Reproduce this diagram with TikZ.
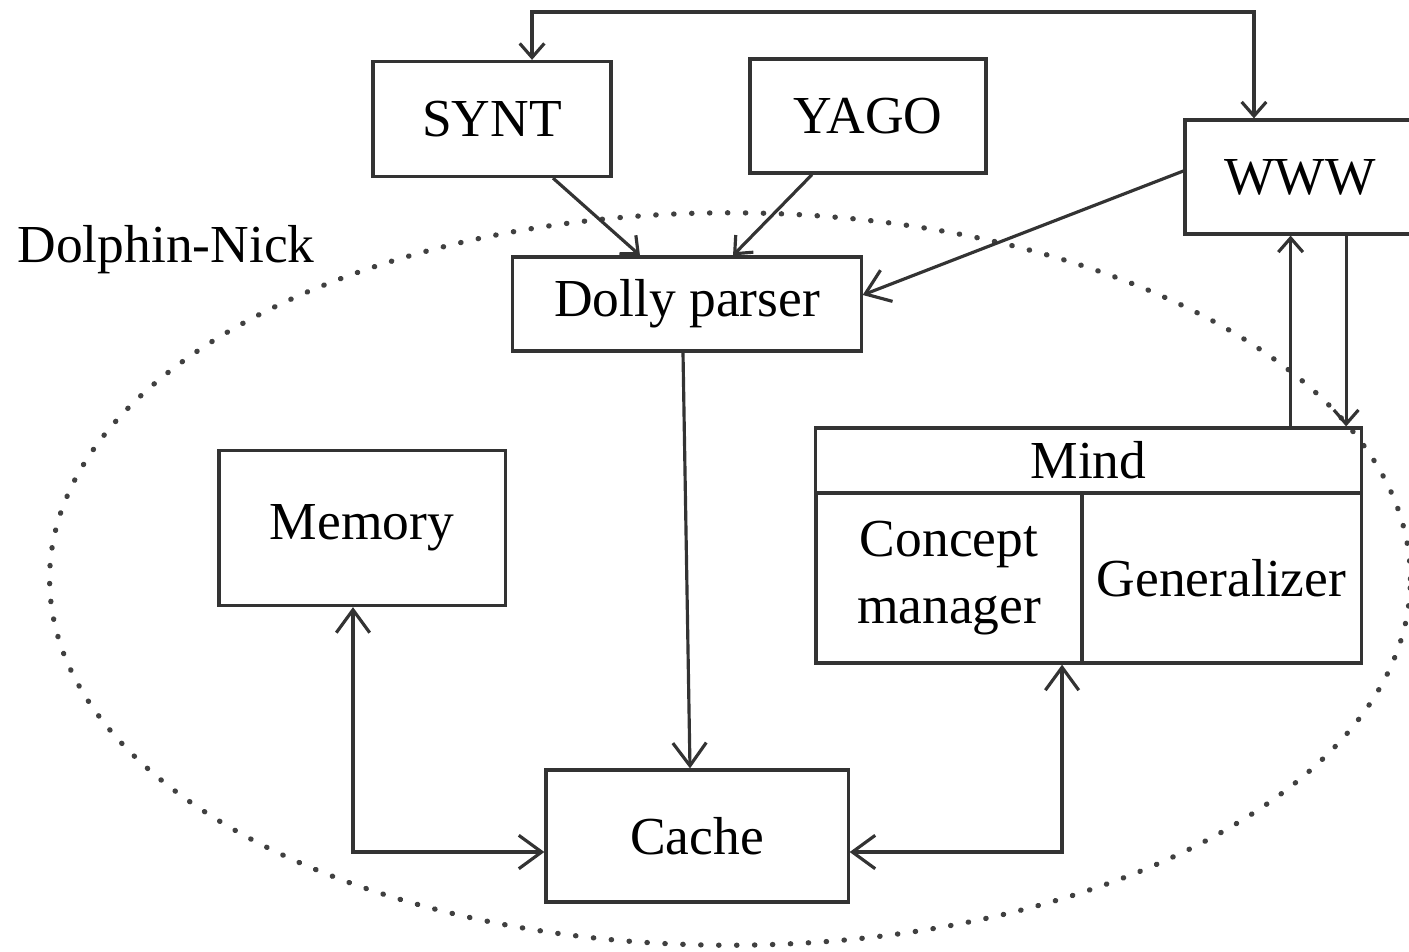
\documentclass[tikz,border=0pt]{standalone}
\usepackage{fontspec}
\setmainfont{Liberation Serif}
\usetikzlibrary{arrows.meta}
\begin{document}
\begin{tikzpicture}[x=0.01cm, y=-0.01cm, line width=0.9pt, draw=black!80,
  box/.style={rectangle,draw,inner sep=0pt,font=\fontsize{15.2}{19}\selectfont},
  sarr/.style={-{Straight Barb[length=4pt,width=7pt]}},
  barr/.style={-{Straight Barb[length=6.5pt,width=9.5pt]}},
  dbarr/.style={{Straight Barb[length=6.5pt,width=9.5pt]}-{Straight Barb[length=6.5pt,width=9.5pt]}}]
\useasboundingbox (0,0) rectangle (1409,951);
\draw[line width=1.5pt, dash pattern=on 0.1pt off 5pt, line cap=round, black!75] (730,579) ellipse [x radius=6.8cm, y radius=3.66cm];
\begin{scope}
\node[box, minimum width=2.38cm, minimum height=1.15cm] (synt) at (492,119) {SYNT};
\node[box, minimum width=2.36cm, minimum height=1.14cm] (yago) at (868,116) {YAGO};
\node[box, minimum width=2.30cm, minimum height=1.14cm] (www) at (1300,177) {WWW};
\node[box, minimum width=3.48cm, minimum height=0.94cm] (dolly) at (687,304) {Dolly parser};
\node[box, minimum width=2.86cm, minimum height=1.55cm] (memory) at (362,528) {Memory};
\node[box, minimum width=5.45cm, minimum height=0.65cm] (mindhead) at (1088.5,460.5) {Mind};
\node[box, minimum width=2.66cm, minimum height=1.70cm, align=center] (concept) at (949,578) {Concept\\manager};
\node[box, minimum width=2.79cm, minimum height=1.70cm] (general) at (1221.5,578) {Generalizer};
\node[box, minimum width=3.02cm, minimum height=1.32cm] (cache) at (697,836) {Cache};
\node[font=\fontsize{15.2}{19}\selectfont] (dolphin) at (166,250) {Dolphin-Nick};
\coordinate (top) at (900,12);
\end{scope}
\begin{scope}
\draw[sarr] (top) -| ([xshift=0.40cm]synt.north);
\draw[sarr] (top) -| ([xshift=-0.46cm]www.north);
\draw[sarr] ([xshift=0.61cm]synt.south) -- ([xshift=-0.47cm]dolly.north);
\draw[sarr] ([xshift=-0.56cm]yago.south) -- ([xshift=0.46cm]dolly.north);
\draw[barr] ([yshift=0.06cm]www.west) -- ([yshift=0.09cm]dolly.east);
\draw[barr] ([xshift=-0.04cm]dolly.south) -- ([xshift=-0.07cm]cache.north);
\draw[sarr] ([xshift=2.02cm]mindhead.north) -- ([xshift=2.02cm]mindhead.north |- www.south);
\draw[sarr] ([xshift=2.575cm]mindhead.north |- www.south) -- ([xshift=2.575cm]mindhead.north);
\draw[dbarr] ([xshift=-0.09cm]memory.south) |- ([yshift=-0.16cm]cache.west);
\draw[dbarr] ([xshift=1.13cm]concept.south) |- ([yshift=-0.16cm]cache.east);
\end{scope}
\end{tikzpicture}
\end{document}
